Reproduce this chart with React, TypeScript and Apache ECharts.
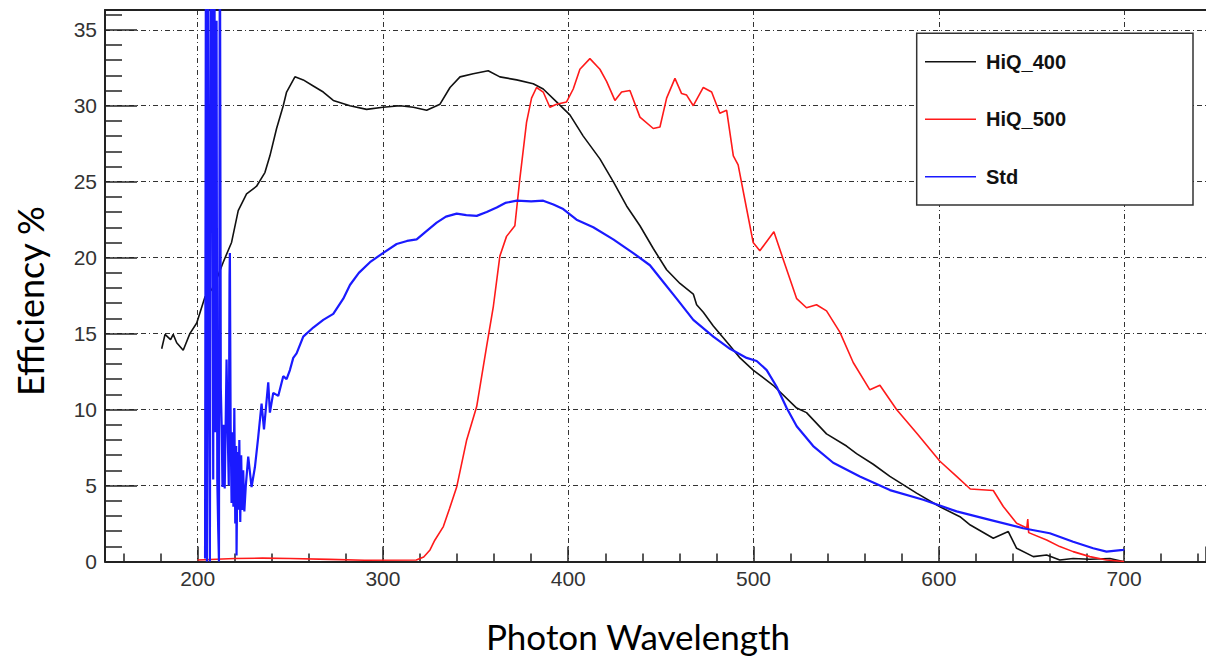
import React, { useEffect, useRef } from 'react';
import * as echarts from 'echarts';

// ---- data (wavelength nm, efficiency %) ----
const seriesNames = ['HiQ_400', 'HiQ_500', 'Std'];

const hiq400: number[][] = [
  [180.6, 14.0], [182.4, 14.95], [185.4, 14.6], [186.8, 14.95], [188.7, 14.4], [192.2, 13.9],
  [195.8, 15.0], [199.5, 15.7], [203.9, 17.4], [207.6, 17.9], [210.3, 18.6], [213.8, 19.7],
  [218.3, 21.0], [221.9, 23.1], [226.4, 24.2], [231.8, 24.7], [236.3, 25.6], [239.0, 26.7],
  [242.6, 28.5], [246.2, 30.0], [248.0, 30.9], [252.5, 31.9], [257.0, 31.7], [262.4, 31.3],
  [267.8, 30.9], [273.2, 30.35], [282.2, 30.0], [291.2, 29.76], [300.0, 29.9], [309.2, 30.0],
  [316.4, 29.9], [323.6, 29.7], [330.8, 30.1], [336.2, 31.2], [341.6, 31.9], [348.7, 32.1],
  [356.8, 32.3], [363.1, 31.9], [372.2, 31.7], [381.1, 31.45], [386.5, 31.1], [393.7, 30.25],
  [400.9, 29.4], [408.1, 28.0], [417.1, 26.5], [424.3, 25.0], [431.5, 23.4], [438.7, 22.1],
  [445.9, 20.6], [453.1, 19.2], [460.3, 18.3], [467.5, 17.6], [469.3, 16.9], [472.9, 16.4],
  [478.3, 15.5], [487.3, 14.2], [492.7, 13.4], [499.8, 12.6], [510.6, 11.6], [523.3, 10.1],
  [528.6, 9.8], [539.4, 8.4], [550.2, 7.6], [555.6, 7.1], [564.6, 6.4], [573.6, 5.6],
  [588.0, 4.5], [600.6, 3.6], [611.4, 2.95], [617.0, 2.4], [629.4, 1.53], [637.5, 1.97],
  [642.0, 0.87], [651.0, 0.32], [658.2, 0.43], [665.3, 0.1], [672.5, 0.2], [681.5, 0.15],
  [692.3, 0.2], [699.5, 0.0],
];

const hiq500: number[][] = [
  [200, 0.1], [210, 0.15], [220, 0.2], [235, 0.22], [250, 0.2], [271, 0.14], [290, 0.08],
  [318, 0.1], [322, 0.3], [325.4, 0.76], [328, 1.4], [332.6, 2.3], [336, 3.5], [339.8, 4.9],
  [345.2, 8.0], [350.6, 10.2], [356, 14.2], [359.6, 16.8], [363.1, 20.1], [366.7, 21.4],
  [371.2, 22.1], [373.9, 25.2], [377.5, 28.9], [380.2, 30.5], [382.9, 31.2], [386.5, 30.9],
  [390.1, 29.9], [393.7, 30.1], [399.1, 30.25], [402.7, 31.1], [406.3, 32.4], [411.7, 33.1],
  [417.1, 32.4], [420.7, 31.6], [425.2, 30.35], [428.8, 30.9], [433.3, 31.0], [438.7, 29.25],
  [445.9, 28.5], [449.5, 28.6], [453.1, 30.5], [457.6, 31.8], [461.2, 30.8], [463.9, 30.7],
  [467.5, 30.0], [472.9, 31.2], [477.4, 30.9], [481.8, 29.5], [485.5, 29.7], [489.1, 26.7],
  [491.7, 26.1], [496.3, 23.2], [499.8, 21.0], [503.4, 20.45], [511, 21.7], [516, 19.9],
  [523.3, 17.3], [528.6, 16.7], [534, 16.9], [539.4, 16.5], [546.6, 15.1], [553.8, 13.1],
  [562.8, 11.3], [568.2, 11.6], [577.2, 10.0], [588, 8.46], [600.6, 6.6], [609.6, 5.6],
  [617, 4.77], [629.4, 4.67], [634.8, 3.62], [642, 2.52], [647.5, 2.2], [648, 2.8],
  [648.5, 1.9], [658.2, 1.42], [665.3, 0.98], [672.5, 0.65], [681.5, 0.32], [690.5, 0.1],
  [700, 0.0],
];

const std: number[][] = [
  [204.0, 0.2], [204.5, 45], [205.0, 0.0], [205.6, 45], [206.2, 12], [206.6, 0.0],
  [207.3, 45], [208.0, 30], [208.4, 5.4], [209.0, 45], [209.6, 8.5], [210.2, 35.6],
  [210.6, 5.4], [211.1, 2.1], [211.5, 0.0], [212.0, 45], [212.5, 11.4], [213.0, 8.7],
  [213.4, 4.9], [214.0, 9.0], [214.6, 4.8], [215.2, 9.7], [215.6, 13.3], [216.2, 8.7],
  [216.8, 5.0], [217.2, 18.8], [217.4, 20.3], [217.8, 9.0], [218.3, 3.85], [218.8, 8.5],
  [219.3, 3.6], [219.8, 10.1], [220.3, 2.5], [220.8, 7.6], [221.0, 0.4], [221.5, 7.2],
  [222.0, 3.4], [222.5, 8.0], [223.0, 2.6], [223.5, 7.0], [224.0, 3.4], [224.6, 6.0],
  [225.2, 3.3], [226.0, 5.0], [227.3, 6.9], [229.1, 4.9], [230.9, 6.2], [232.7, 8.2],
  [234.5, 10.4], [235.8, 8.7], [238.1, 11.8], [239.0, 9.8], [240.8, 11.1], [243.5, 10.9],
  [246.2, 12.2], [248.0, 12.0], [249.8, 12.6], [251.6, 13.4], [253.4, 13.7], [257.0, 14.8],
  [262.4, 15.4], [267.8, 15.9], [273.2, 16.3], [278.6, 17.3], [282.2, 18.2], [287.0, 19.0],
  [293.0, 19.7], [300.0, 20.3], [307.4, 20.9], [313.0, 21.1], [318.2, 21.2], [323.0, 21.7],
  [329.0, 22.3], [334.0, 22.7], [339.8, 22.9], [345.0, 22.8], [350.6, 22.75], [356.0, 23.0],
  [361.4, 23.3], [366.0, 23.6], [372.2, 23.75], [380.0, 23.7], [386.5, 23.75], [392.0, 23.5],
  [397.3, 23.2], [404.5, 22.5], [413.5, 22.0], [424.3, 21.2], [435.1, 20.3], [444.1, 19.5],
  [451.3, 18.4], [458.5, 17.3], [467.5, 15.9], [478.3, 14.8], [487.3, 14.0], [496.3, 13.4],
  [501.7, 13.2], [507.1, 12.6], [512.5, 11.5], [517.9, 10.1], [523.3, 8.9], [532.2, 7.6],
  [543.0, 6.5], [557.4, 5.6], [573.6, 4.7], [591.6, 4.06], [609.6, 3.3], [627.6, 2.74],
  [645.5, 2.19], [659.9, 1.86], [672.5, 1.3], [683.3, 0.87], [690.5, 0.65], [699.5, 0.76],
  [700.0, 0.8],
];

const xTickLabels = [200, 300, 400, 500, 600, 700];
const yTickLabels = [0, 5, 10, 15, 20, 25, 30, 35];
const xTitle = 'Photon Wavelength';
const yTitle = 'Efficiency %';

const seriesColors = ['#111111', '#ff1a1a', '#1a1aff'];
const seriesWidths = [1.6, 1.6, 2.2];

export default function App() {
  const ref = useRef<HTMLDivElement>(null);

  useEffect(() => {
    document.body.style.margin = '0';
    const chart = echarts.init(ref.current as HTMLDivElement, null, { renderer: 'svg' });
    const gridDash = [5, 3, 1, 3];
    const tickFont = "'Liberation Sans', Arial, sans-serif";
    const datasets = [hiq400, hiq500, std];

    chart.setOption({
      animation: false,
      backgroundColor: '#ffffff',
      grid: { left: 105, right: 0, top: 10, bottom: 97.5, containLabel: false, outerBoundsMode: 'none' },
      xAxis: [
        {
          type: 'value',
          min: 150,
          max: 744.2,
          position: 'bottom',
          axisLine: { show: true, onZero: false, lineStyle: { color: '#222', width: 2 } },
          axisTick: { show: true, inside: true, length: 15, lineStyle: { color: '#222', width: 1.5 } },
          minorTick: { show: true, splitNumber: 5, length: 8, lineStyle: { color: '#222', width: 1.5 } },
          splitLine: { show: true, lineStyle: { color: '#333', width: 1, type: gridDash } },
          axisLabel: {
            show: true,
            margin: 6,
            fontSize: 21,
            color: '#333',
            fontFamily: tickFont,
            showMinLabel: false,
            showMaxLabel: false,
            formatter: (v: number) => (xTickLabels.includes(Math.round(v)) && Math.abs(v - Math.round(v)) < 1e-6 ? String(Math.round(v)) : ''),
          },
        },
        {
          type: 'value',
          min: 150,
          max: 744.2,
          position: 'top',
          axisLine: { show: true, onZero: false, lineStyle: { color: '#222', width: 2 } },
          axisTick: { show: false },
          axisLabel: { show: false },
          splitLine: { show: false },
        },
      ],
      yAxis: {
        type: 'value',
        min: 0,
        max: 36.3,
        interval: 5,
        axisLine: { show: true, onZero: false, lineStyle: { color: '#222', width: 2 } },
        axisTick: { show: true, inside: true, length: 32, lineStyle: { color: '#222', width: 1.5 } },
        minorTick: { show: true, splitNumber: 5, length: 17, lineStyle: { color: '#222', width: 1.5 } },
        splitLine: { show: true, lineStyle: { color: '#333', width: 1, type: gridDash } },
        axisLabel: {
          show: true,
          margin: 8,
          fontSize: 21,
          color: '#333',
          fontFamily: tickFont,
          showMaxLabel: false,
          formatter: (v: number) => (yTickLabels.includes(v) ? String(v) : ''),
        },
      },
      legend: {
        orient: 'vertical',
        left: 925,
        top: 51.7,
        padding: 0,
        icon: 'rect',
        itemWidth: 51,
        itemHeight: 1.6,
        itemGap: 37.5,
        selectedMode: false,
        data: seriesNames,
        textStyle: {
          fontSize: 20,
          fontWeight: 'bold',
          fontFamily: tickFont,
          color: '#111',
          padding: [0, 0, 0, 5],
        },
      },
      graphic: [
        {
          type: 'rect',
          z: 3,
          shape: { x: 916.7, y: 33.3, width: 276.3, height: 171.7 },
          style: { fill: '#ffffff', stroke: '#333', lineWidth: 1.5 },
        },
        {
          type: 'text',
          x: 30,
          y: 301,
          rotation: Math.PI / 2,
          style: {
            text: yTitle,
            font: "36px Lato, 'Open Sans', sans-serif",
            fill: '#000',
            textAlign: 'center',
            textVerticalAlign: 'middle',
          },
        },
        {
          type: 'text',
          x: 638,
          y: 636,
          style: {
            text: xTitle,
            font: "35px Lato, 'Open Sans', sans-serif",
            fill: '#000',
            textAlign: 'center',
            textVerticalAlign: 'middle',
          },
        },
      ],
      series: datasets.map((d, i) => ({
        name: seriesNames[i],
        type: 'line',
        data: d,
        xAxisIndex: 0,
        yAxisIndex: 0,
        symbol: 'none',
        clip: true,
        lineStyle: { color: seriesColors[i], width: seriesWidths[i] },
        itemStyle: { color: seriesColors[i] },
      })),
    });

    return () => {
      chart.dispose();
    };
  }, []);

  return <div ref={ref} style={{ width: 1206, height: 659 }} />;
}
